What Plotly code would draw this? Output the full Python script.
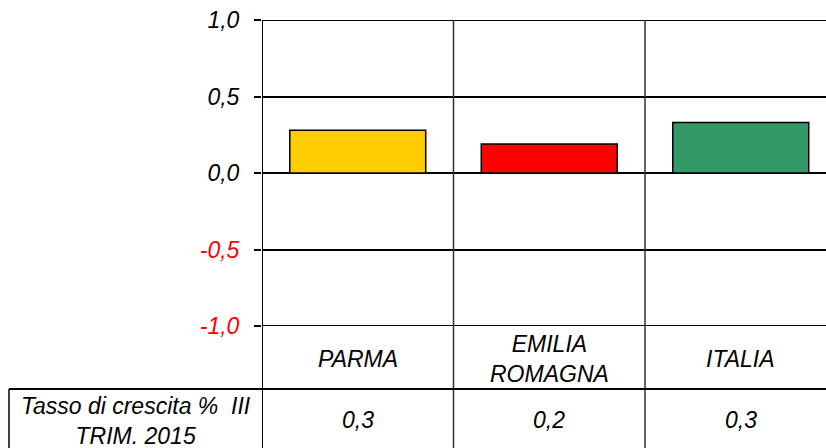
import plotly.graph_objects as go

categories = ["PARMA", "EMILIA<br>ROMAGNA", "ITALIA"]
values = [0.28, 0.19, 0.33]
table_values = ["0,3", "0,2", "0,3"]
bar_colors = ["#FFCC00", "#FF0000", "#339966"]
tick_vals = [-1.0, -0.5, 0.0, 0.5, 1.0]
tick_text = ["-1,0", "-0,5", "0,0", "0,5", "1,0"]
row_label = "Tasso di crescita %  III<br>TRIM. 2015"

W, H = 826, 448
ml, mt, mb = 262, 20, 122
plot_h = H - mt - mb
plot_w = W - ml
col_px = 191.5
FONT = "Liberation Sans, Arial, sans-serif"
FS = 23

def py(px):  # pixel y (from top) -> paper y
    return (H - mb - px) / plot_h

def px_x(px):
    return (px - ml) / plot_w

x_idx = list(range(len(categories)))

fig = go.Figure(go.Bar(
    x=x_idx, y=values, width=0.71,
    marker=dict(color=bar_colors, line=dict(color="black", width=1.5)),
    hoverinfo="skip",
))

ticktext = [f'<span style="color:red"><i>{t}</i></span>' if v < 0 else f"<i>{t}</i>"
            for v, t in zip(tick_vals, tick_text)]

shapes = []
# edge gridlines (range ends)
for yv in [tick_vals[0], tick_vals[-1]]:
    shapes.append(dict(type="line", xref="paper", yref="y", x0=0, x1=1.01,
                       y0=yv, y1=yv, line=dict(color="black", width=2)))
# left axis line extending through table
shapes.append(dict(type="line", xref="x", yref="paper", x0=-0.5, x1=-0.5,
                   y0=py(H + 5), y1=1, line=dict(color="black", width=2)))
# inner column separators
for b in [0.5, 1.5]:
    shapes.append(dict(type="line", xref="x", yref="paper", x0=b, x1=b,
                       y0=py(H + 5), y1=1, line=dict(color="#333333", width=1.5)))
# table horizontal line
shapes.append(dict(type="line", xref="paper", yref="paper", x0=px_x(9), x1=1.01,
                   y0=py(389), y1=py(389), line=dict(color="black", width=2)))
# table left border
shapes.append(dict(type="line", xref="paper", yref="paper", x0=px_x(9), x1=px_x(9),
                   y0=py(389), y1=py(H + 5), line=dict(color="black", width=1.5)))

annotations = []
for i, c in enumerate(categories):
    annotations.append(dict(x=i, y=py(359), xref="x", yref="paper", text=f"<i>{c}</i>",
                            showarrow=False, font=dict(family=FONT, size=FS, color="black"),
                            xanchor="center", yanchor="middle"))
    annotations.append(dict(x=i, y=py(420), xref="x", yref="paper", text=f"<i>{table_values[i]}</i>",
                            showarrow=False, font=dict(family=FONT, size=FS, color="black"),
                            xanchor="center", yanchor="middle"))
annotations.append(dict(x=px_x(136), y=py(421), xref="paper", yref="paper", text=f"<i>{row_label}</i>",
                        showarrow=False, font=dict(family=FONT, size=FS, color="black"),
                        xanchor="center", yanchor="middle"))

fig.update_layout(
    width=W, height=H,
    margin=dict(l=ml, r=0, t=mt, b=mb),
    paper_bgcolor="white", plot_bgcolor="white",
    showlegend=False,
    shapes=shapes, annotations=annotations,
    xaxis=dict(range=[-0.5, -0.5 + plot_w / col_px], showticklabels=False,
               showgrid=False, zeroline=False, showline=False, fixedrange=True),
    yaxis=dict(range=[-1, 1], tickvals=tick_vals, ticktext=ticktext,
               showgrid=True, gridcolor="black", gridwidth=1.5,
               zeroline=True, zerolinecolor="black", zerolinewidth=1.5,
               showline=False, ticks="outside", ticklen=7, tickcolor="black", tickwidth=1.5,
               ticklabelstandoff=10, fixedrange=True,
               tickfont=dict(family=FONT, size=FS, color="black")),
)

fig.write_html("out.html", config={"displayModeBar": False},
               post_script="document.body.style.margin='0';document.body.style.overflow='hidden';")
